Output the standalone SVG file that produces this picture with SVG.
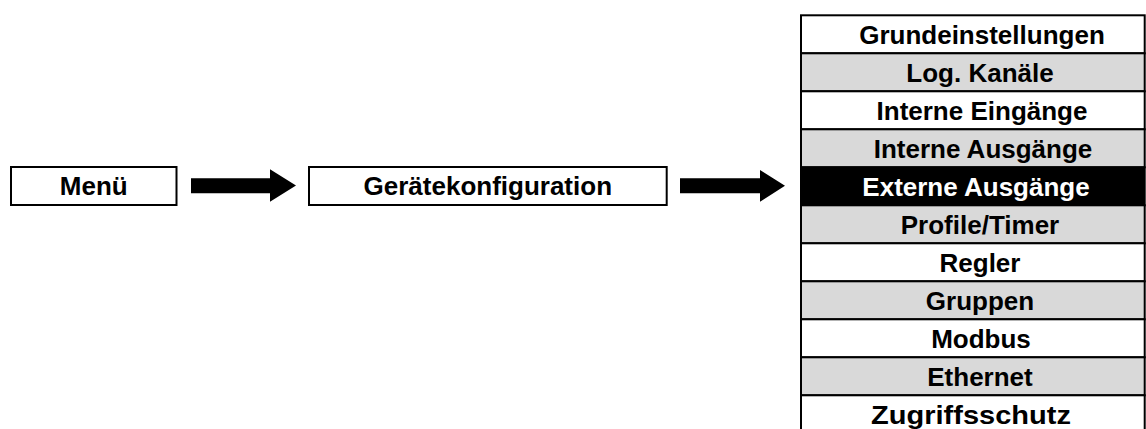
<svg xmlns="http://www.w3.org/2000/svg" width="1146" height="429" viewBox="0 0 1146 429">
<style>
text{font-family:"Liberation Sans",Arial,Helvetica,sans-serif;font-weight:bold;font-size:26px;text-anchor:middle;fill:#000}
.box{fill:#fff;stroke:#000;stroke-width:2}
.w{fill:#fff;stroke:#000;stroke-width:2}
.g{fill:#d9d9d9;stroke:#000;stroke-width:2}
.b{fill:#000;stroke:#000;stroke-width:2}
text.inv{fill:#fff}
.arrow{fill:#000;stroke:none}
</style>
<rect width="1146" height="429" fill="#fff"/>
<g id="connectors">
<polygon class="arrow" points="191,178.3 270,178.3 270,169.3 296,185.5 270,201.7 270,193.3 191,193.3"/>
<polygon class="arrow" points="680,178.3 760,178.3 760,170 785,185.8 760,201.7 760,193.3 680,193.3"/>
</g>
<g id="menu">
<rect class="box" x="11" y="167" width="165.5" height="38"/>
<text x="93.8" y="195.3">Menü</text>
</g>
<g id="geraetekonfiguration">
<rect class="box" x="309" y="167" width="357.7" height="38"/>
<text x="487.8" y="195.3">Gerätekonfiguration</text>
</g>
<g id="grundeinstellungen">
<rect class="w" x="801" y="15.3" width="343.7" height="38"/>
<text x="982" y="43.6">Grundeinstellungen</text>
</g>
<g id="log-kanaele">
<rect class="g" x="801" y="53.3" width="343.7" height="38"/>
<text x="980" y="81.6">Log. Kanäle</text>
</g>
<g id="interne-eingaenge">
<rect class="w" x="801" y="91.3" width="343.7" height="38"/>
<text x="982" y="119.6">Interne Eingänge</text>
</g>
<g id="interne-ausgaenge">
<rect class="g" x="801" y="129.3" width="343.7" height="38"/>
<text x="983" y="157.6">Interne Ausgänge</text>
</g>
<g id="externe-ausgaenge">
<rect class="b" x="801" y="167.3" width="343.7" height="38"/>
<text class="inv" x="976" y="195.6">Externe Ausgänge</text>
</g>
<g id="profile-timer">
<rect class="g" x="801" y="205.3" width="343.7" height="38"/>
<text x="980" y="233.6">Profile/Timer</text>
</g>
<g id="regler">
<rect class="w" x="801" y="243.3" width="343.7" height="38"/>
<text x="980" y="271.6">Regler</text>
</g>
<g id="gruppen">
<rect class="g" x="801" y="281.3" width="343.7" height="38"/>
<text x="980" y="309.6">Gruppen</text>
</g>
<g id="modbus">
<rect class="w" x="801" y="319.3" width="343.7" height="38"/>
<text x="981" y="347.6">Modbus</text>
</g>
<g id="ethernet">
<rect class="g" x="801" y="357.3" width="343.7" height="38"/>
<text x="980" y="385.6">Ethernet</text>
</g>
<g id="zugriffsschutz">
<rect class="w" x="801" y="395.3" width="343.7" height="38"/>
<text x="971" y="423.6" textLength="200" lengthAdjust="spacingAndGlyphs">Zugriffsschutz</text>
</g>
</svg>
